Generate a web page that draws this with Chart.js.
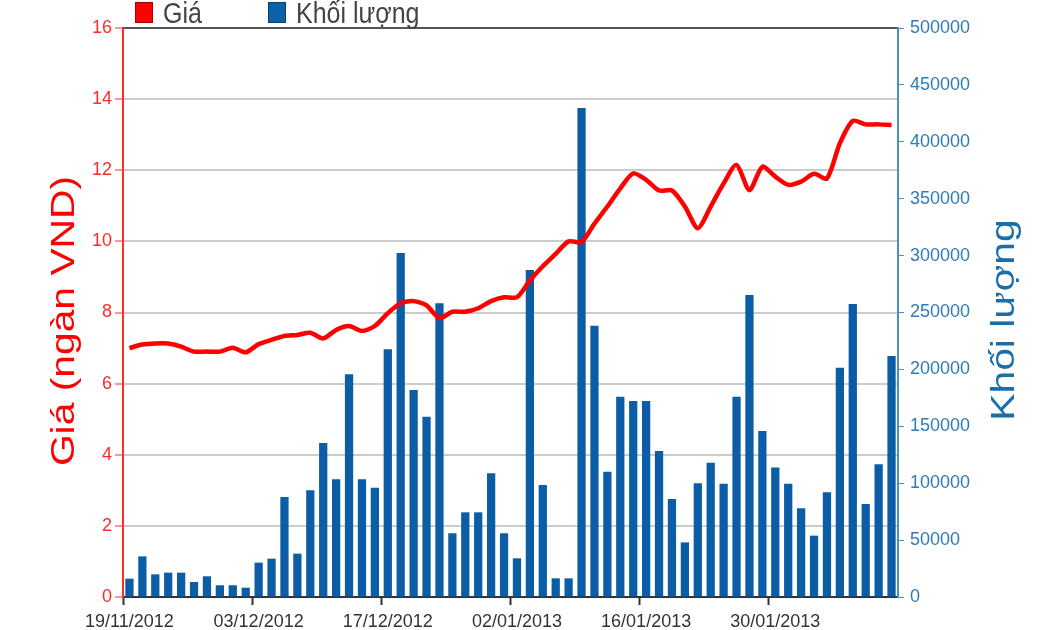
<!DOCTYPE html>
<html>
<head>
<meta charset="utf-8">
<style>
html,body{margin:0;padding:0;background:#ffffff;overflow:hidden}
#wrap{width:1050px;height:630px;position:relative}
</style>
<script src="https://cdn.jsdelivr.net/npm/chart.js@4/dist/chart.umd.min.js"></script>
</head>
<body>
<div id="wrap"><canvas id="c" width="1050" height="630"></canvas></div>
<script>
// ---- data ----
const dates = [
  '19/11/2012','20/11/2012','21/11/2012','22/11/2012','23/11/2012',
  '26/11/2012','27/11/2012','28/11/2012','29/11/2012','30/11/2012',
  '03/12/2012','04/12/2012','05/12/2012','06/12/2012','07/12/2012',
  '10/12/2012','11/12/2012','12/12/2012','13/12/2012','14/12/2012',
  '17/12/2012','18/12/2012','19/12/2012','20/12/2012','21/12/2012',
  '24/12/2012','25/12/2012','26/12/2012','27/12/2012','28/12/2012',
  '02/01/2013','03/01/2013','04/01/2013','07/01/2013','08/01/2013',
  '09/01/2013','10/01/2013','11/01/2013','14/01/2013','15/01/2013',
  '16/01/2013','17/01/2013','18/01/2013','21/01/2013','22/01/2013',
  '23/01/2013','24/01/2013','25/01/2013','28/01/2013','29/01/2013',
  '30/01/2013','31/01/2013','01/02/2013','04/02/2013','05/02/2013',
  '06/02/2013','07/02/2013','08/02/2013','18/02/2013','19/02/2013'
];
const priceLabel = 'Giá';
const volumeLabel = 'Khối lượng';
const priceAxisTitle = 'Giá (ngàn VND)';
const volumeAxisTitle = 'Khối lượng';
const price = [
  7.0, 7.1, 7.13, 7.13, 7.04, 6.9, 6.9, 6.9, 7.01, 6.88,
  7.11, 7.23, 7.34, 7.37, 7.43, 7.27, 7.51, 7.62, 7.48, 7.62,
  7.98, 8.26, 8.32, 8.2, 7.84, 8.02, 8.02, 8.12, 8.32, 8.43,
  8.43, 8.9, 9.3, 9.65, 10.0, 9.98, 10.5, 10.98, 11.49, 11.91,
  11.73, 11.43, 11.43, 10.98, 10.37, 10.98, 11.63, 12.15, 11.44, 12.1,
  11.82, 11.59, 11.68, 11.9, 11.77, 12.76, 13.39, 13.29, 13.29, 13.27
];
const volume = [
  16100, 35700, 19900, 21400, 21400, 13200, 18200, 10300, 10300, 8200,
  30200, 33700, 87900, 38100, 93700, 135300, 103400, 195700, 103400, 96100,
  217600, 302300, 181900, 158400, 258100, 56000, 74400, 74400, 108700, 56000,
  34000, 287300, 98400, 16400, 16400, 429700, 238400, 110100, 176000, 172200,
  172200, 128300, 86100, 48000, 99900, 118000, 99600, 176000, 265400, 145900,
  113900, 99600, 77900, 53900, 92000, 201500, 257500, 81700, 116600, 211800
];
const priceMin = 0, priceMax = 16, priceStep = 2;
const volumeMin = 0, volumeMax = 500000, volumeStep = 50000;
const labelEvery = 10;

// ---- styling ----
const RED = '#ff0000';
const RED_AXIS = '#ff2b2b';
const BLUE_BAR = '#0b5ea6';
const BLUE_TEXT = '#2f7cb6';
const BLUE_AXIS = '#4a90c4';
const FONT = '"Liberation Sans", Arial, Helvetica, sans-serif';

const extras = {
  id: 'extras',
  afterDraw(chart) {
    const ctx = chart.ctx;
    ctx.save();
    // legend
    const ds = chart.data.datasets;
    const pos = [135, 268];
    ctx.font = '25px ' + FONT;
    ctx.textBaseline = 'alphabetic';
    ctx.textAlign = 'left';
    ds.forEach((d, i) => {
      ctx.fillStyle = d.legendColor;
      ctx.fillRect(pos[i], 2, 18, 21);
      ctx.strokeStyle = 'rgba(0,0,0,0.35)';
      ctx.lineWidth = 1;
      ctx.strokeRect(pos[i] + 0.5, 2.5, 17, 20);
      ctx.save();
      ctx.translate(pos[i] + 28, 23);
      ctx.scale(1, 1.2);
      ctx.fillStyle = '#444444';
      ctx.fillText(d.label, 0, 0);
      ctx.restore();
    });
    // axis titles (both read bottom-to-top)
    ctx.font = '34px ' + FONT;
    ctx.textAlign = 'center';
    ctx.textBaseline = 'middle';
    ctx.save();
    ctx.translate(65, 321);
    ctx.rotate(-Math.PI / 2);
    ctx.scale(1.2, 1);
    ctx.fillStyle = RED;
    ctx.fillText(priceAxisTitle, 0, 0);
    ctx.restore();
    ctx.save();
    ctx.translate(1005, 320);
    ctx.rotate(-Math.PI / 2);
    ctx.scale(1.2, 1);
    ctx.fillStyle = '#1b6ea8';
    ctx.fillText(volumeAxisTitle, 0, 0);
    ctx.restore();
    ctx.restore();
  }
};

new Chart(document.getElementById('c'), {
  type: 'bar',
  data: {
    labels: dates,
    datasets: [
      {
        type: 'line', label: priceLabel, data: price, yAxisID: 'y',
        borderColor: RED, backgroundColor: RED, legendColor: RED,
        borderWidth: 4.5, pointRadius: 0, tension: 0.25, order: 0
      },
      {
        type: 'bar', label: volumeLabel, data: volume, yAxisID: 'y1',
        backgroundColor: BLUE_BAR, legendColor: '#0b62a8',
        barPercentage: 0.64, categoryPercentage: 1.0, order: 1
      }
    ]
  },
  options: {
    responsive: false,
    animation: false,
    layout: { padding: { top: 28, left: 0, right: 0, bottom: 0 } },
    plugins: { legend: { display: false }, tooltip: { enabled: false } },
    scales: {
      x: {
        type: 'category', offset: true,
        grid: {
          display: true, drawOnChartArea: false, tickLength: 8, tickWidth: 2,
          tickColor: c => (c.index % labelEvery === 0 ? '#333333' : 'rgba(0,0,0,0)')
        },
        border: { display: true, color: '#333333', width: 2 },
        ticks: {
          autoSkip: false, maxRotation: 0, minRotation: 0, padding: 6,
          color: '#333333', font: { size: 18, family: FONT },
          callback: (v, i) => (i % labelEvery === 0 ? dates[i] : '')
        },
        afterFit: s => { s.height = 33; }
      },
      y: {
        position: 'left', min: priceMin, max: priceMax,
        ticks: { stepSize: priceStep, color: RED_AXIS, font: { size: 18, family: FONT }, padding: 3 },
        grid: {
          color: c => (c.tick && c.tick.value === priceMax ? '#555555' : '#cccccc'),
          lineWidth: 2, tickLength: 8, tickColor: RED_AXIS, tickWidth: 1
        },
        border: { color: RED_AXIS, width: 2 },
        afterFit: s => { s.width = 123; }
      },
      y1: {
        position: 'right', min: volumeMin, max: volumeMax,
        ticks: {
          stepSize: volumeStep, color: BLUE_TEXT, font: { size: 18, family: FONT }, padding: 6,
          callback: v => String(v)
        },
        grid: { drawOnChartArea: false, tickLength: 6, tickColor: BLUE_AXIS, tickWidth: 1 },
        border: { color: BLUE_AXIS, width: 2 },
        afterFit: s => { s.width = 152; }
      }
    }
  },
  plugins: [extras]
});
</script>
</body>
</html>
